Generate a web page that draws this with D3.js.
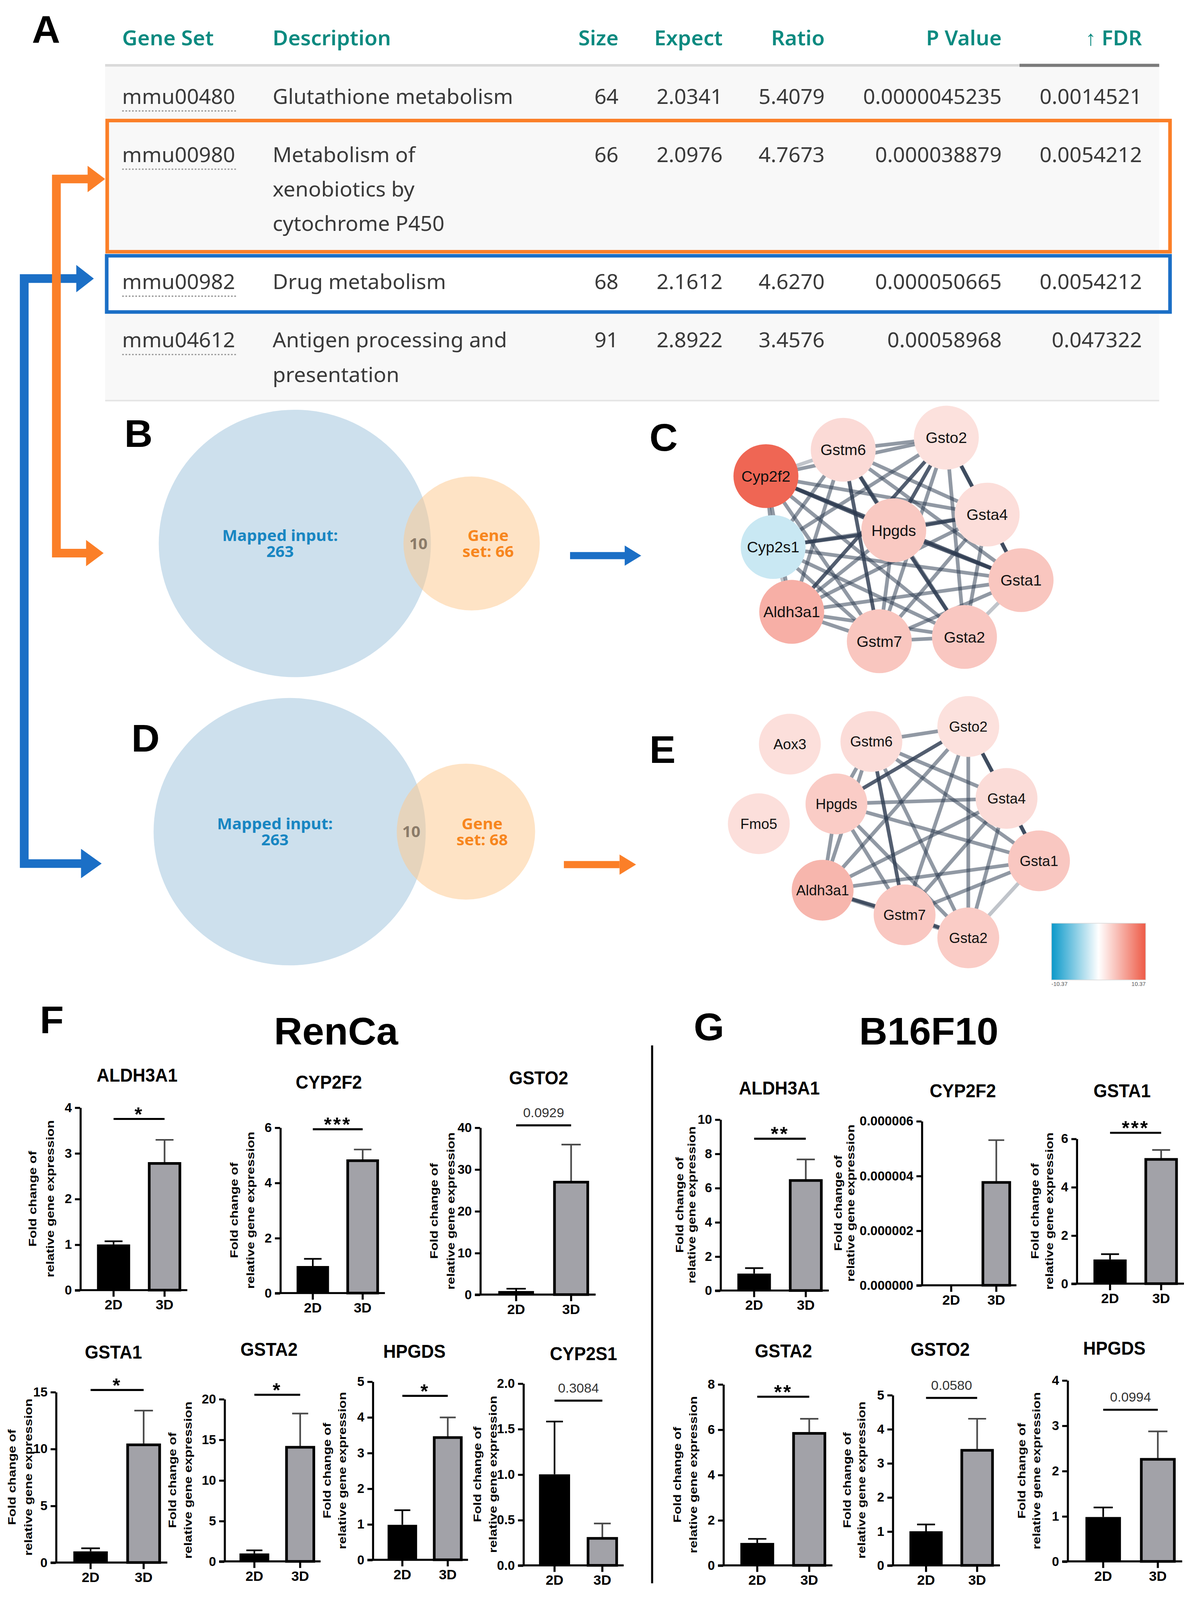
<!DOCTYPE html>
<html>
<head>
<meta charset="utf-8">
<script src="https://cdn.jsdelivr.net/npm/d3@7"></script>
<style>
  html, body { margin: 0; padding: 0; width: 100%; height: 100%; overflow: hidden; background: #fff; }
  svg { display: block; width: 100vw; height: 100vh; }
</style>
</head>
<body>
<svg id="fig"></svg>
<script>
// ---------- data: enrichment table (panel A) ----------
const tableHeader = ['Gene Set', 'Description', 'Size', 'Expect', 'Ratio', 'P Value', '\u2191 FDR'];
const geneSetIds = ['mmu00480', 'mmu00980', 'mmu00982', 'mmu04612'];
const descriptions = [
  ['Glutathione metabolism'],
  ['Metabolism of', 'xenobiotics by', 'cytochrome P450'],
  ['Drug metabolism'],
  ['Antigen processing and', 'presentation']
];
const setSizes = [64, 66, 68, 91];
const expectVals = ['2.0341', '2.0976', '2.1612', '2.8922'];
const ratioVals = ['5.4079', '4.7673', '4.6270', '3.4576'];
const pValues = ['0.0000045235', '0.000038879', '0.000050665', '0.00058968'];
const fdrValues = ['0.0014521', '0.0054212', '0.0054212', '0.047322'];

// ---------- data: venn (panels B, D) ----------
const vennMapped = [263, 263];
const vennGeneSet = [66, 68];
const vennOverlap = [10, 10];

// ---------- data: networks (panels C, E) ----------
const colorLimit = 10.37;
const cNodes = ['Cyp2f2', 'Gstm6', 'Gsto2', 'Gsta4', 'Hpgds', 'Cyp2s1', 'Gsta1', 'Aldh3a1', 'Gstm7', 'Gsta2'];
const cValues = [9.6, 2.3, 1.9, 2.1, 3.4, -2.3, 3.6, 5.0, 3.6, 3.5];
const cEdges = [
  [0,1,1],[0,2,2],[0,3,2],[0,4,3],[0,5,2],[0,6,3],[0,7,2],[0,8,2],[0,9,2],
  [1,2,2],[1,3,2],[1,4,3],[1,5,2],[1,6,2],[1,7,2],[1,8,3],[1,9,2],
  [2,3,3],[2,4,3],[2,5,2],[2,6,2],[2,7,3],[2,8,2],[2,9,2],
  [3,4,3],[3,5,2],[3,6,3],[3,7,2],[3,8,2],[3,9,2],
  [4,5,3],[4,6,3],[4,7,2],[4,8,2],[4,9,3],
  [5,6,2],[5,7,1],[5,8,2],[5,9,2],
  [6,7,2],[6,8,2],[6,9,1],
  [7,8,2],[7,9,2],
  [8,9,2]
];
const eNodes = ['Aox3', 'Gstm6', 'Gsto2', 'Fmo5', 'Hpgds', 'Gsta4', 'Gsta1', 'Aldh3a1', 'Gstm7', 'Gsta2'];
const eValues = [2.0, 2.2, 1.9, 2.0, 3.2, 2.2, 3.5, 4.6, 3.5, 3.2];
const eEdges = [
  [1,2,2],[1,4,2],[1,5,2],[1,6,2],[1,7,2],[1,8,3],[1,9,2],
  [2,4,3],[2,5,3],[2,6,2],[2,7,2],[2,8,2],[2,9,2],
  [4,5,2],[4,6,2],[4,7,2],[4,8,2],[4,9,2],
  [5,6,3],[5,7,2],[5,8,2],[5,9,2],
  [6,7,2],[6,8,2],[6,9,1],
  [7,8,3],[7,9,2],
  [8,9,3]
];

// ---------- data: qPCR bars (panels F, G) ----------
const groups = ['2D', '3D'];

const rencaGenes = ['ALDH3A1', 'CYP2F2', 'GSTO2', 'GSTA1', 'GSTA2', 'HPGDS', 'CYP2S1'];
const rencaMean2D = [1.0, 0.98, 0.85, 0.98, 0.98, 0.98, 1.0];
const rencaErr2D = [0.07, 0.26, 0.55, 0.27, 0.38, 0.41, 0.58];
const rencaMean3D = [2.8, 4.84, 27.2, 10.45, 14.2, 3.46, 0.31];
const rencaErr3D = [0.49, 0.36, 8.7, 2.9, 4.0, 0.53, 0.15];
const rencaYMax = [4, 6, 40, 15, 20, 5, 2];
const rencaYStep = [1, 2, 10, 5, 5, 1, 0.5];
const rencaTickFmt = ['d', 'd', 'd', 'd', 'd', 'd', '.1f'];
const rencaSig = ['*', '***', '0.0929', '*', '*', '*', '0.3084'];

const b16Genes = ['ALDH3A1', 'CYP2F2', 'GSTA1', 'GSTA2', 'GSTO2', 'HPGDS'];
const b16Mean2D = [0.99, 0, 1.0, 0.99, 1.0, 0.98];
const b16Err2D = [0.32, 0, 0.22, 0.18, 0.2, 0.21];
const b16Mean3D = [6.5, 0.0000038, 5.19, 5.88, 3.41, 2.28];
const b16Err3D = [1.16, 0.0000015, 0.34, 0.59, 0.89, 0.59];
const b16YMax = [10, 0.000006, 6, 8, 5, 4];
const b16YStep = [2, 0.000002, 2, 2, 1, 1];
const b16TickFmt = ['d', '.6f', 'd', 'd', 'd', 'd'];
const b16Sig = ['**', '', '***', '**', '0.0580', '0.0994'];

// ---------- layout ----------
const W = 1160.2, H = 1579.5;
const ARIAL = "'Liberation Sans', Arial, sans-serif";
const SEGOE = "'Noto Sans', 'Open Sans', sans-serif";
const ORANGE = '#fb7f28', BLUE = '#1b6fc6';

const svg = d3.select('#fig')
  .attr('viewBox', `0 0 ${W} ${H}`)
  .attr('preserveAspectRatio', 'none');

// ===== panel A: table =====
const colX = [118.5, 264.5, 600, 701, 800, 971.7, 1107.8];
const colAnchor = ['start', 'start', 'end', 'end', 'end', 'end', 'end'];
const rowTop = [65.5, 118, 250, 308];
const rowBottom = [118, 250, 308, 395];
const rowFill = ['#f8f8f8', '#f8f8f8', '#ffffff', '#f8f8f8'];
const rowBase = [102.5, 160, 285.4, 343];
const lineH = 34;

const tbl = svg.append('g');
tbl.selectAll('rect.rowbg')
  .data(rowTop)
  .join('rect')
  .attr('x', 102).attr('width', 1022.5)
  .attr('y', d => d)
  .attr('height', (d, i) => rowBottom[i] - d)
  .attr('fill', (d, i) => rowFill[i]);

tbl.append('line').attr('x1', 102).attr('x2', 1124.5).attr('y1', 64.5).attr('y2', 64.5)
  .attr('stroke', '#dadada').attr('stroke-width', 2.5);
tbl.append('line').attr('x1', 989).attr('x2', 1124.5).attr('y1', 64.5).attr('y2', 64.5)
  .attr('stroke', '#7b7b7b').attr('stroke-width', 3);
tbl.append('line').attr('x1', 102).attr('x2', 1124.5).attr('y1', 395.5).attr('y2', 395.5)
  .attr('stroke', '#e4e4e4').attr('stroke-width', 1.5);

tbl.selectAll('text.head')
  .data(tableHeader)
  .join('text')
  .attr('x', (d, i) => colX[i]).attr('y', 44.6)
  .attr('text-anchor', (d, i) => colAnchor[i])
  .attr('font-family', SEGOE).attr('font-size', 20.5).attr('font-weight', 600)
  .attr('fill', '#0b8a80')
  .text(d => d);

geneSetIds.forEach((id, r) => {
  const cells = [id, null, setSizes[r], expectVals[r], ratioVals[r], pValues[r], fdrValues[r]];
  cells.forEach((c, ci) => {
    if (ci === 1) {
      tbl.append('text')
        .attr('font-family', SEGOE).attr('font-size', 20.5).attr('fill', '#3a3a3a')
        .selectAll('tspan').data(descriptions[r]).join('tspan')
        .attr('x', colX[1]).attr('y', (d, k) => rowBase[r] + k * lineH)
        .text(d => d);
    } else {
      tbl.append('text')
        .attr('x', colX[ci]).attr('y', rowBase[r])
        .attr('text-anchor', colAnchor[ci])
        .attr('font-family', SEGOE).attr('font-size', 20.5).attr('fill', '#3a3a3a')
        .text(c);
    }
  });
  tbl.append('line')
    .attr('x1', 118.5).attr('x2', 230.5)
    .attr('y1', rowBase[r] + 7).attr('y2', rowBase[r] + 7)
    .attr('stroke', '#9a9a9a').attr('stroke-width', 1.3).attr('stroke-dasharray', '1.6,1.6');
});

// highlight boxes
tbl.append('rect').attr('x', 104).attr('y', 119).attr('width', 1031).attr('height', 129.5)
  .attr('fill', 'none').attr('stroke', ORANGE).attr('stroke-width', 3.5);
tbl.append('rect').attr('x', 103.5).attr('y', 252.5).attr('width', 1031.5).attr('height', 55.5)
  .attr('fill', 'none').attr('stroke', BLUE).attr('stroke-width', 3.5);

// ===== connector arrows =====
function arrowHead(g, tipX, y, len, half, color) {
  g.append('path')
    .attr('d', `M${tipX},${y} L${tipX - len},${y - half} L${tipX - len},${y + half} Z`)
    .attr('fill', color);
}
function elbow(pts, color, w, heads) {
  const g = svg.append('g');
  g.append('path')
    .attr('d', d3.line()(pts))
    .attr('fill', 'none').attr('stroke', color).attr('stroke-width', w)
    .attr('stroke-linejoin', 'miter');
  heads.forEach(h => arrowHead(g, h[0], h[1], h[2], h[3], color));
}
elbow([[76, 275], [23.5, 275], [23.5, 852.5], [80, 852.5]], BLUE, 8.5,
  [[91, 275, 17, 13.5], [98.6, 852.5, 20, 14.5]]);
elbow([[86, 176.7], [54.7, 176.7], [54.7, 546], [85, 546]], ORANGE, 8.5,
  [[102, 176.7, 17, 13], [100.5, 546, 17, 13]]);
elbow([[553, 548.5], [607, 548.5]], BLUE, 7, [[622, 548.5, 16, 10]]);
elbow([[547, 853.5], [601, 853.5]], ORANGE, 7, [[617, 853.5, 16, 10]]);

// ===== panels B, D: venn =====
const rScale = d3.scaleSqrt().domain([0, 263]).range([0, 132]);
const vennLayout = [
  { cx: 286, cy: 536.5, d: 171.5, tx: 271.7, ox: 405.9, gx: 473.5 },
  { cx: 281, cy: 821, d: 171, tx: 266.7, ox: 399, gx: 467.7 }
];
vennLayout.forEach((L, i) => {
  const g = svg.append('g');
  g.append('circle').attr('cx', L.cx).attr('cy', L.cy).attr('r', rScale(vennMapped[i]))
    .attr('fill', '#cde0ed');
  g.append('circle').attr('cx', L.cx + L.d).attr('cy', L.cy).attr('r', rScale(vennGeneSet[i]))
    .attr('fill', '#fdca90').attr('fill-opacity', 0.52);
  const txt = (x, lines, color) => g.append('text')
    .attr('font-family', SEGOE).attr('font-weight', 700).attr('font-size', 15.5)
    .attr('fill', color).attr('text-anchor', 'middle')
    .selectAll('tspan').data(lines).join('tspan')
    .attr('x', x).attr('y', (d, k) => L.cy + (k === 0 ? -8 : 8))
    .attr('dy', '0.36em').text(d => d);
  txt(L.tx, ['Mapped input:', String(vennMapped[i])], '#1886c2');
  txt(L.gx, ['Gene', 'set: ' + vennGeneSet[i]], '#f7861e');
  g.append('text').attr('x', L.ox).attr('y', L.cy).attr('dy', '0.36em')
    .attr('text-anchor', 'middle').attr('font-family', SEGOE).attr('font-weight', 700)
    .attr('font-size', 15.5).attr('fill', '#8b7b69').text(vennOverlap[i]);
});

// ===== panels C, E: networks =====
const nodeColor = d3.scaleLinear()
  .domain([-colorLimit, 0, colorLimit])
  .range(['#0a98c9', '#ffffff', '#ee5a46']);
const edgeOpacity = d3.scaleOrdinal().domain([1, 2, 3]).range([0.3, 0.52, 0.82]);

const cPos = [[743, 470], [818, 444], [918, 432], [957.6, 508], [867, 523.5], [750, 540],
  [990.5, 572.7], [768, 604], [853, 633], [935.6, 628.8]];
const ePos = [[766.2, 734.6], [845.3, 732], [939.3, 717.2], [736.1, 813.2], [811.4, 793.6],
  [976.4, 788.2], [1007.9, 849.8], [798, 878.8], [877.5, 903.1], [939.3, 925.9]];

function drawNetwork(names, values, edges, pos, r, fs) {
  const g = svg.append('g');
  g.selectAll('line')
    .data(edges)
    .join('line')
    .attr('x1', d => pos[d[0]][0]).attr('y1', d => pos[d[0]][1])
    .attr('x2', d => pos[d[1]][0]).attr('y2', d => pos[d[1]][1])
    .attr('stroke', '#2d3b50')
    .attr('stroke-opacity', d => edgeOpacity(d[2]))
    .attr('stroke-width', 3.6);
  const n = g.selectAll('g.node')
    .data(names)
    .join('g')
    .attr('transform', (d, i) => `translate(${pos[i][0]},${pos[i][1]})`);
  n.append('circle').attr('r', r).attr('fill', (d, i) => nodeColor(values[i]));
  n.append('text').attr('text-anchor', 'middle').attr('dy', '0.36em')
    .attr('font-family', ARIAL).attr('font-size', fs).attr('fill', '#111')
    .text(d => d);
}
drawNetwork(cNodes, cValues, cEdges, cPos, 31.5, 15);
drawNetwork(eNodes, eValues, eEdges, ePos, 30, 14);

// colour key
const defs = svg.append('defs');
const grad = defs.append('linearGradient').attr('id', 'fcgrad');
grad.selectAll('stop')
  .data(d3.range(0, 1.0001, 0.1))
  .join('stop')
  .attr('offset', d => d)
  .attr('stop-color', d => nodeColor(-colorLimit + d * 2 * colorLimit));
svg.append('rect').attr('x', 1020).attr('y', 911.4).attr('width', 91.4).attr('height', 56)
  .attr('fill', 'url(#fcgrad)').attr('stroke', '#d8d8d8').attr('stroke-width', 0.6);
svg.append('text').attr('x', 1020).attr('y', 973.5).attr('font-family', ARIAL)
  .attr('font-size', 5.5).attr('fill', '#555').text('-' + colorLimit);
svg.append('text').attr('x', 1111.4).attr('y', 973.5).attr('text-anchor', 'end')
  .attr('font-family', ARIAL).attr('font-size', 5.5).attr('fill', '#555').text(String(colorLimit));

// ===== panels F, G: bar charts =====
const rencaLayout = [
  { ax: 77.7, ae: 181.7, yt: 1093.2, yb: 1273.6, tx: 133, ty: 1061, lx: [31.6, 48.5], sy: 1104.6 },
  { ax: 271.7, ae: 373.4, yt: 1113, yb: 1276.5, tx: 319, ty: 1068, lx: [227, 243], sy: 1114.8 },
  { ax: 465.7, ae: 577.8, yt: 1113, yb: 1278, tx: 522.5, ty: 1064, lx: [421, 437], sy: 1110.9 },
  { ax: 54.1, ae: 162.3, yt: 1374, yb: 1542.5, tx: 110, ty: 1334.5, lx: [11.5, 27.5], sy: 1372.2 },
  { ax: 217.6, ae: 311, yt: 1381, yb: 1541.4, tx: 261, ty: 1332, lx: [167, 182.4], sy: 1376.9 },
  { ax: 361.4, ae: 454, yt: 1363.7, yb: 1539.8, tx: 402, ty: 1334, lx: [317, 332], sy: 1378 },
  { ax: 507.5, ae: 605, yt: 1365.6, yb: 1545.3, tx: 566, ty: 1336, lx: [463, 478], sy: 1382.7 }
];
const b16Layout = [
  { ax: 698.7, ae: 804, yt: 1105, yb: 1274, tx: 756, ty: 1074, lx: [659, 671], sy: 1124.1 },
  { ax: 894, ae: 986, yt: 1106.6, yb: 1268.8, tx: 934, ty: 1076.6, lx: [813, 825.2], sy: null },
  { ax: 1044.3, ae: 1148.5, yt: 1124, yb: 1267.2, tx: 1088.5, ty: 1076.6, lx: [1004, 1017.8], sy: 1118.3 },
  { ax: 701.5, ae: 807.5, yt: 1366.4, yb: 1545.3, tx: 760, ty: 1333.3, lx: [657, 672.5], sy: 1378.8 },
  { ax: 865.8, ae: 970, yt: 1377, yb: 1545.3, tx: 912, ty: 1332, lx: [821.5, 835.8], sy: 1380 },
  { ax: 1035.4, ae: 1146.8, yt: 1362.5, yb: 1541.4, tx: 1081, ty: 1330.6, lx: [991, 1005.4], sy: 1391.7 }
];

function drawBar(L, gene, m2, e2, m3, e3, ymax, step, fmt, sig) {
  const g = svg.append('g');
  const w = L.ae - L.ax;
  const x = d3.scaleBand().domain(groups)
    .range([L.ax + 0.11 * w, L.ae - 0.01 * w])
    .paddingInner(0.35).paddingOuter(0.1);
  const y = d3.scaleLinear().domain([0, ymax]).range([L.yb, L.yt]);
  const vals = [{ k: '2D', m: m2, e: e2 }, { k: '3D', m: m3, e: e3 }];
  const cx = d => x(d.k) + x.bandwidth() / 2;

  // error bars (upper only)
  const eb = vals.filter(d => d.e > 0);
  g.selectAll('line.err').data(eb).join('line')
    .attr('x1', cx).attr('x2', cx)
    .attr('y1', d => y(d.m)).attr('y2', d => y(d.m + d.e))
    .attr('stroke', d => d.k === '2D' ? '#000' : '#4a4a4a').attr('stroke-width', 1.6);
  g.selectAll('line.cap').data(eb).join('line')
    .attr('x1', d => cx(d) - x.bandwidth() * 0.27).attr('x2', d => cx(d) + x.bandwidth() * 0.27)
    .attr('y1', d => y(d.m + d.e)).attr('y2', d => y(d.m + d.e))
    .attr('stroke', d => d.k === '2D' ? '#000' : '#4a4a4a').attr('stroke-width', 1.6);

  // bars
  g.selectAll('rect.bar').data(vals.filter(d => d.m > 0)).join('rect')
    .attr('x', d => x(d.k) + (d.k === '3D' ? 1.2 : 0))
    .attr('width', d => x.bandwidth() - (d.k === '3D' ? 2.4 : 0))
    .attr('y', d => y(d.m) + (d.k === '3D' ? 1.2 : 0))
    .attr('height', d => y(0) - y(d.m) - (d.k === '3D' ? 1.2 : 0))
    .attr('fill', d => d.k === '2D' ? '#000' : '#a2a2a8')
    .attr('stroke', '#000').attr('stroke-width', d => d.k === '2D' ? 0 : 2.6);

  // y axis
  const ya = g.append('g')
    .attr('transform', `translate(${L.ax},0)`)
    .call(d3.axisLeft(y)
      .tickValues(d3.range(0, ymax + step / 2, step))
      .tickFormat(d3.format(fmt))
      .tickSize(5).tickSizeOuter(0).tickPadding(3));
  // x axis
  const xa = g.append('g')
    .attr('transform', `translate(0,${L.yb})`)
    .call(d3.axisBottom(x).tickSize(6.5).tickPadding(3));
  xa.select('.domain').remove();
  xa.append('line').attr('x1', L.ax - 5).attr('x2', L.ae).attr('stroke', '#000').attr('stroke-width', 2);
  [ya, xa].forEach(a => {
    a.attr('font-family', ARIAL).attr('font-size', 12.5);
    a.selectAll('.domain, .tick line').attr('stroke', '#000').attr('stroke-width', 2);
    a.selectAll('text').attr('fill', '#000').attr('font-weight', 700);
  });
  xa.selectAll('text').attr('font-size', 13.5);

  // title
  g.append('text')
    .attr('transform', `translate(${L.tx},${L.ty + 6.6}) scale(0.92,1)`)
    .attr('text-anchor', 'middle').attr('font-family', ARIAL)
    .attr('font-weight', 700).attr('font-size', 18.5).attr('fill', '#000')
    .text(gene);

  // y label
  const ym = (L.yt + L.yb) / 2;
  ['Fold change of', 'relative gene expression'].forEach((t, k) => {
    g.append('text')
      .attr('transform', `translate(${L.lx[k]},${ym}) scale(0.78,1) rotate(-90)`)
      .attr('text-anchor', 'middle').attr('dy', '0.36em')
      .attr('font-family', ARIAL).attr('font-weight', 700).attr('font-size', 13.3)
      .attr('fill', '#000').text(t);
  });

  // significance
  if (sig) {
    g.append('line')
      .attr('x1', cx(vals[0])).attr('x2', cx(vals[1]))
      .attr('y1', L.sy).attr('y2', L.sy)
      .attr('stroke', '#000').attr('stroke-width', 2);
    const isStar = sig.indexOf('*') >= 0;
    g.append('text')
      .attr('x', (cx(vals[0]) + cx(vals[1])) / 2)
      .attr('y', isStar ? L.sy + 2 : L.sy - 8)
      .attr('text-anchor', 'middle').attr('font-family', ARIAL)
      .attr('font-weight', isStar ? 700 : 400)
      .attr('font-size', isStar ? 19 : 13)
      .attr('letter-spacing', isStar ? 1.5 : 0)
      .attr('fill', isStar ? '#000' : '#333')
      .text(sig);
  }
}

rencaGenes.forEach((gname, i) => drawBar(rencaLayout[i], gname, rencaMean2D[i], rencaErr2D[i],
  rencaMean3D[i], rencaErr3D[i], rencaYMax[i], rencaYStep[i], rencaTickFmt[i], rencaSig[i]));
b16Genes.forEach((gname, i) => drawBar(b16Layout[i], gname, b16Mean2D[i], b16Err2D[i],
  b16Mean3D[i], b16Err3D[i], b16YMax[i], b16YStep[i], b16TickFmt[i], b16Sig[i]));

// headings and divider
svg.append('text').attr('x', 326).attr('y', 1031).attr('text-anchor', 'middle')
  .attr('font-family', ARIAL).attr('font-weight', 700).attr('font-size', 38).text('RenCa');
svg.append('text').attr('x', 901).attr('y', 1031).attr('text-anchor', 'middle')
  .attr('font-family', ARIAL).attr('font-weight', 700).attr('font-size', 38).text('B16F10');
svg.append('line').attr('x1', 632.6).attr('x2', 632.6).attr('y1', 1032).attr('y2', 1563)
  .attr('stroke', '#000').attr('stroke-width', 2);

// panel letters
const panelLetters = [['A', 31, 42.2], ['B', 120.6, 441], ['C', 630, 445], ['D', 127.5, 742],
  ['E', 630, 753], ['F', 38.6, 1020], ['G', 673, 1027]];
svg.selectAll('text.letter')
  .data(panelLetters)
  .join('text')
  .attr('x', d => d[1]).attr('y', d => d[2])
  .attr('font-family', ARIAL).attr('font-weight', 700).attr('font-size', 38)
  .attr('fill', '#000')
  .text(d => d[0]);
</script>
</body>
</html>
